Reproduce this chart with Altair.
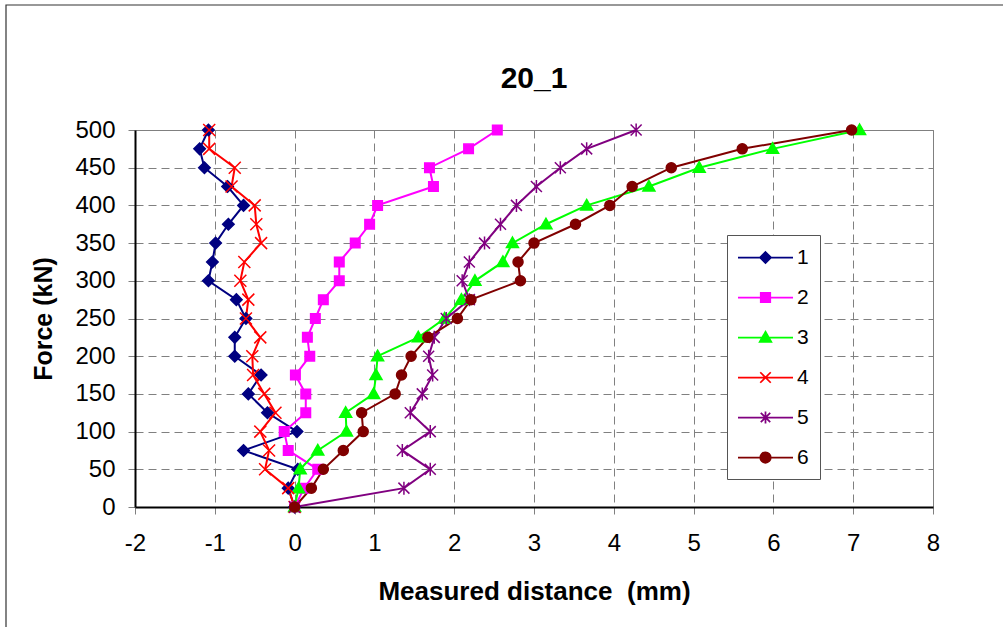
import altair as alt
import pandas as pd

# ---------------- data ----------------
force = [0, 25, 50, 75, 100, 125, 150, 175, 200, 225, 250,
         275, 300, 325, 350, 375, 400, 425, 450, 475, 500]

s1 = [0, -0.08, 0.04, -0.64, 0.03, -0.34, -0.58, -0.42, -0.75, -0.75, -0.61,
      -0.73, -1.08, -1.03, -0.99, -0.83, -0.64, -0.84, -1.13, -1.19, -1.08]
s2 = [0, 0.12, 0.29, -0.08, -0.13, 0.14, 0.14, 0.01, 0.19, 0.16, 0.26,
      0.36, 0.56, 0.56, 0.76, 0.94, 1.04, 1.74, 1.69, 2.18, 2.54]
s3 = [0, 0.05, 0.07, 0.29, 0.65, 0.64, 0.99, 1.02, 1.04, 1.55, 1.88,
      2.09, 2.26, 2.61, 2.73, 3.15, 3.66, 4.44, 5.07, 5.99, 7.08]
s4 = [0, -0.08, -0.37, -0.32, -0.43, -0.24, -0.38, -0.52, -0.53, -0.43, -0.61,
      -0.58, -0.68, -0.63, -0.42, -0.48, -0.50, -0.79, -0.75, -1.07, -1.07]
s5 = [0, 1.37, 1.70, 1.35, 1.70, 1.45, 1.60, 1.73, 1.68, 1.75, 1.90,
      2.19, 2.10, 2.19, 2.38, 2.58, 2.78, 3.03, 3.33, 3.66, 4.28]
s6 = [0, 0.21, 0.36, 0.61, 0.86, 0.84, 1.26, 1.34, 1.46, 1.67, 2.04,
      2.21, 2.83, 2.80, 3.00, 3.52, 3.95, 4.23, 4.72, 5.61, 6.98]

series_names = ["1", "2", "3", "4", "5", "6"]
series_values = [s1, s2, s3, s4, s5, s6]
colors = ["#000080", "#FF00FF", "#00FF00", "#FF0000", "#800080", "#800000"]

x_ticks = [-2, -1, 0, 1, 2, 3, 4, 5, 6, 7, 8]
y_ticks = [0, 50, 100, 150, 200, 250, 300, 350, 400, 450, 500]

# marker shapes (custom symbol paths, unit = 5 px at size 100)
circ = ("M1,0C1,0.552,0.552,1,0,1C-0.552,1,-1,0.552,-1,0"
        "C-1,-0.552,-0.552,-1,0,-1C0.552,-1,1,-0.552,1,0Z")
marker_paths = [
    "M0,-1.15L1.15,0L0,1.15L-1.15,0Z",
    "M-0.95,-0.95H0.95V0.95H-0.95Z",
    "M0,-1.2L1.2,0.9L-1.2,0.9Z",
    "M-1.2,-1.2L1.2,1.2M-1.2,1.2L1.2,-1.2",
    "M-1.1,-1.1L1.1,1.1M-1.1,1.1L1.1,-1.1M0,-1.3V1.3",
    circ,
]


# legend symbols: line segment + marker (unit = 10.5 px at symbol size 441)
def lg(shape):
    cx, h = 1.524, 0.524
    line = "M-1.095,0H4.143"
    if shape == "diamond":
        m = f"M{cx},{-h}L{cx+h},0L{cx},{h}L{cx-h},0Z"
    elif shape == "square":
        d = 0.45
        m = f"M{cx-d},{-d}H{cx+d}V{d}H{cx-d}Z"
    elif shape == "triangle":
        m = f"M{cx},{-0.55}L{cx+0.55},0.42L{cx-0.55},0.42Z"
    elif shape == "x":
        d = 0.5
        m = f"M{cx-d},{-d}L{cx+d},{d}M{cx-d},{d}L{cx+d},{-d}"
    elif shape == "star":
        d = 0.45
        m = f"M{cx-d},{-d}L{cx+d},{d}M{cx-d},{d}L{cx+d},{-d}M{cx},{-0.58}V0.58"
    else:
        r, k = 0.5, 0.276
        m = (f"M{cx+r},0C{cx+r},{k},{cx+k},{r},{cx},{r}C{cx-k},{r},{cx-r},{k},{cx-r},0"
             f"C{cx-r},{-k},{cx-k},{-r},{cx},{-r}C{cx+k},{-r},{cx+r},{-k},{cx+r},0Z")
    return line + m


legend_paths = [lg(s) for s in ["diamond", "square", "triangle", "x", "star", "circle"]]

rows = []
for name, vals in zip(series_names, series_values):
    for f, v in zip(force, vals):
        rows.append({"series": name, "force": f, "dist": v})
df = pd.DataFrame(rows)

FONT = "Liberation Sans"

x_enc = alt.X("dist:Q", scale=alt.Scale(domain=[-2, 8], nice=False, zero=False),
              axis=alt.Axis(values=x_ticks, labelExpr="'' + datum.value",
                            title="Measured distance \u00a0(mm)", titleFontSize=26,
                            titleY=92, titleBaseline="alphabetic",
                            labelPadding=17, labelFlush=False))
y_enc = alt.Y("force:Q", scale=alt.Scale(domain=[0, 500], nice=False),
              axis=alt.Axis(values=y_ticks, title="Force (kN)",
                            titleX=-84, titleBaseline="alphabetic",
                            labelPadding=13, labelFlush=False))

base = alt.Chart(df)

lines = base.mark_line(strokeWidth=2).encode(
    x=x_enc, y=y_enc,
    color=alt.Color("series:N", scale=alt.Scale(domain=series_names, range=colors), legend=None),
    order=alt.Order("force:Q"),
)

points = base.mark_point(filled=True, opacity=1, strokeWidth=1.5, size=100).encode(
    x=x_enc, y=y_enc,
    fill=alt.Fill("series:N", scale=alt.Scale(domain=series_names, range=colors), legend=None),
    stroke=alt.Stroke("series:N", scale=alt.Scale(domain=series_names, range=colors), legend=None),
    shape=alt.Shape("series:N", scale=alt.Scale(domain=series_names, range=marker_paths), legend=None),
)

leg = alt.Legend(title=None, orient="none", legendX=592, legendY=105,
                 symbolSize=441, symbolStrokeWidth=1.75, symbolOpacity=1,
                 labelFontSize=21, labelFont=FONT, labelColor="black",
                 labelOffset=36, padding=11, rowPadding=18,
                 strokeColor="#555555", fillColor="white")

legend_layer = base.transform_filter("false").mark_point(filled=True, opacity=1).encode(
    x=x_enc, y=y_enc,
    fill=alt.Fill("series:N", scale=alt.Scale(domain=series_names, range=colors), legend=leg),
    stroke=alt.Stroke("series:N", scale=alt.Scale(domain=series_names, range=colors), legend=leg),
    shape=alt.Shape("series:N", scale=alt.Scale(domain=series_names, range=legend_paths), legend=leg),
)

frame = alt.Chart(pd.DataFrame({"k": [0]})).mark_rect(
    fill="transparent", stroke="#333333", strokeWidth=1.2).encode(
    x=alt.value(-129), x2=alt.value(1000), y=alt.value(-125), y2=alt.value(700))

chart = alt.layer(frame, lines, points, legend_layer).resolve_scale(
    color="independent", fill="independent", stroke="independent", shape="independent"
).properties(
    width=798, height=377,
    autosize=alt.AutoSizeParams(type="none"),
    padding={"left": 135, "top": 130, "right": 70, "bottom": 120},
    title=alt.TitleParams(text="20_1", fontSize=30, font=FONT, fontWeight="bold",
                          anchor="middle", frame="group", baseline="alphabetic",
                          offset=0, dy=114, color="black"),
).configure(background="white").configure_view(
    stroke="#808080", strokeWidth=1
).configure_axis(
    labelFont=FONT, labelFontSize=24, labelColor="black",
    titleFont=FONT, titleFontSize=25, titleFontWeight="bold", titleColor="black",
    domainColor="black", domainWidth=2,
    tickColor="#808080", tickSize=7, tickWidth=1,
    grid=True, gridColor="#808080", gridDash=[8, 5], gridWidth=1,
)

chart.save("out.html", embed_options={"renderer": "svg", "actions": False})
